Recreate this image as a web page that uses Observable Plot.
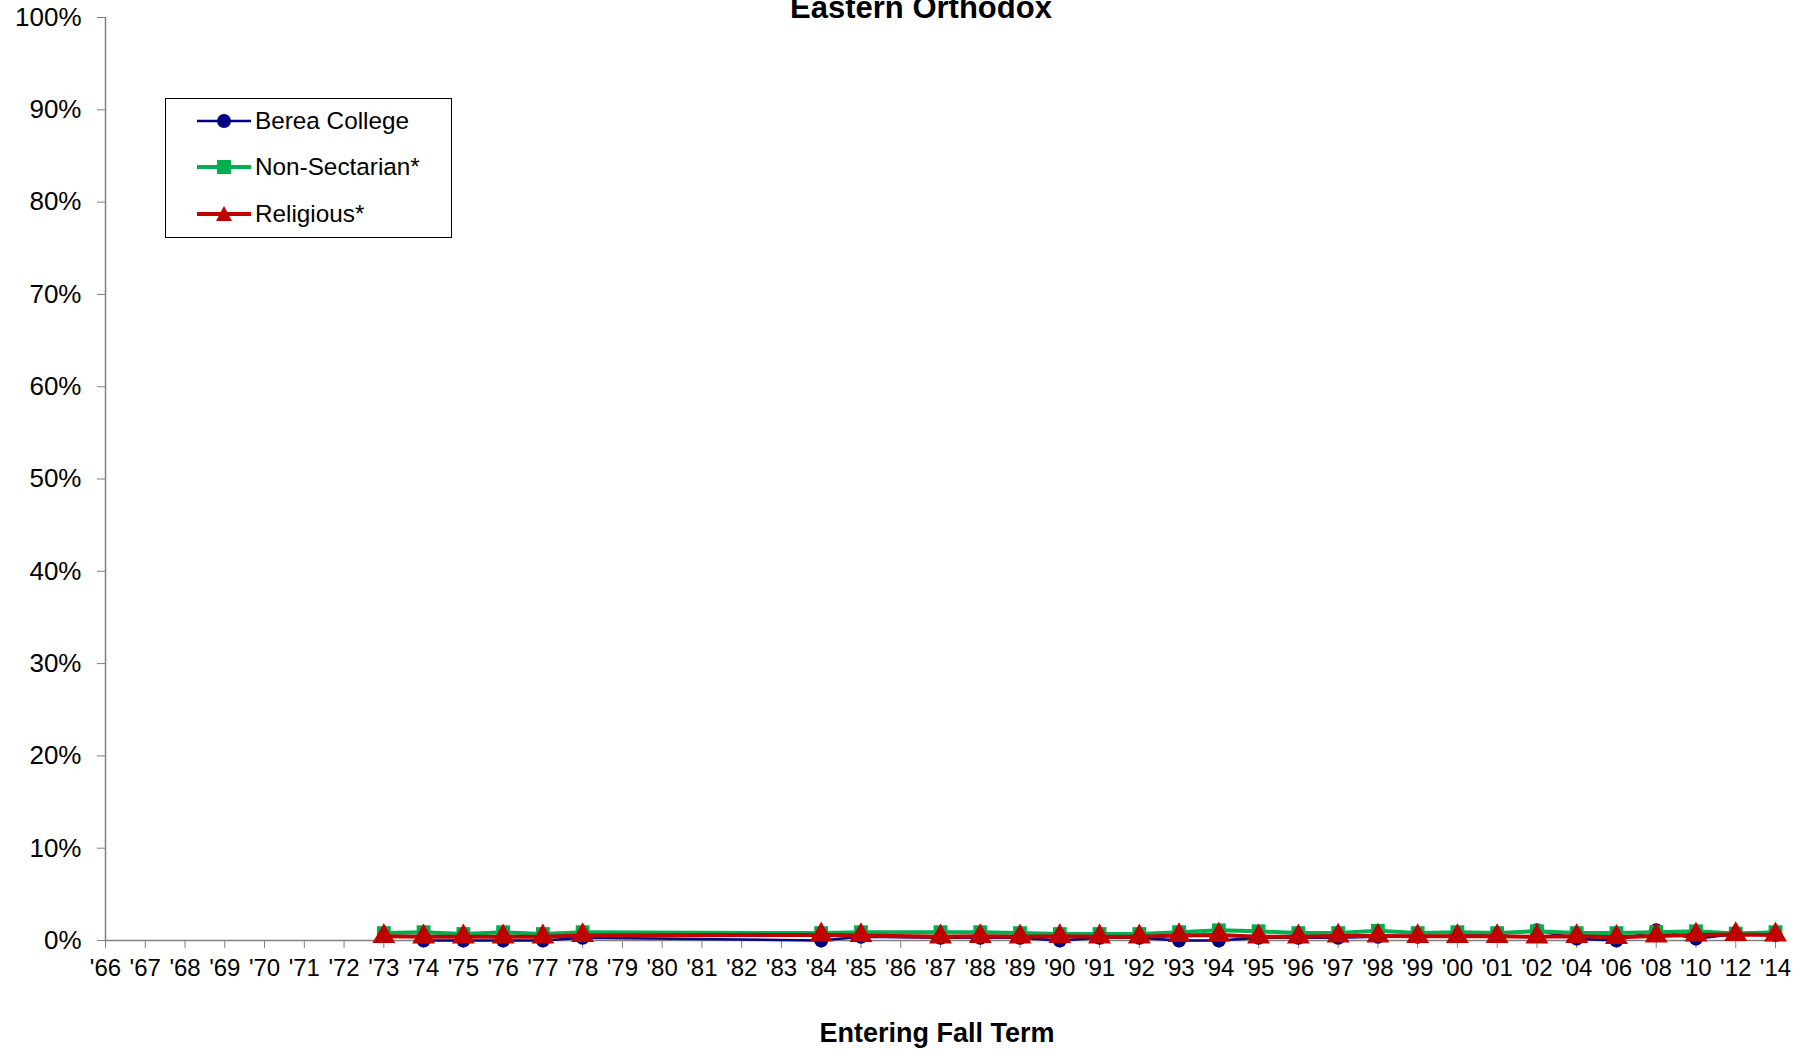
<!DOCTYPE html>
<html><head><meta charset="utf-8">
<script src="https://cdn.jsdelivr.net/npm/d3@7"></script>
<script src="https://cdn.jsdelivr.net/npm/@observablehq/plot@0.6"></script>
<style>
body{margin:0;background:#fff;font-family:"Liberation Sans",Arial,sans-serif;}
#wrap{position:relative;width:1812px;height:1050px;overflow:hidden;background:#fff;}
#chart{position:absolute;left:0;top:0;}
#title{position:absolute;left:0;width:1842px;text-align:center;top:-8px;font-size:31px;line-height:31px;font-weight:bold;color:#000;white-space:nowrap;}
#xlabel{position:absolute;left:0;width:1874px;text-align:center;top:1020px;font-size:27px;line-height:27px;font-weight:bold;color:#000;}
#legend{position:absolute;left:165px;top:98px;width:285px;height:138px;border:1px solid #000;background:#fff;}
.row{position:absolute;left:0;height:30px;width:285px;}
.row svg{position:absolute;left:28px;top:0;}
.row span{position:absolute;left:89px;top:2px;font-size:24.3px;line-height:26px;color:#000;white-space:nowrap;}
</style></head><body>
<div id="wrap">
  <div id="chart"></div>
  <div id="title">Eastern Orthodox</div>
  <div id="xlabel">Entering Fall Term</div>
  <div id="legend"></div>
</div>
<script>
const categories = ["'66","'67","'68","'69","'70","'71","'72","'73","'74","'75","'76","'77","'78","'79","'80","'81","'82","'83","'84","'85","'86","'87","'88","'89","'90","'91","'92","'93","'94","'95","'96","'97","'98","'99","'00","'01","'02","'04","'06","'08","'10","'12","'14"];
const n = null;
const berea = [n,n,n,n,n,n,n, n, 0,0,0,0,0.3, n,n,n,n,n, 0,0.4,n,0.3,0.3,0.3,0,0.3,0.3,0,0,0.3,0.3,0.3,0.4,0.4,0.5,0.7,1.1,0.2,0,1.1,0.2,0.7,0.6];
const nonSectarian = [n,n,n,n,n,n,n, 0.8, 0.9,0.7,0.9,0.7,0.9, n,n,n,n,n, 0.8,0.9,n,0.9,0.9,0.8,0.7,0.7,0.7,0.9,1.1,1.0,0.8,0.8,1.05,0.8,0.9,0.8,1.0,0.8,0.8,0.9,1.0,0.75,0.9];
const religious = [n,n,n,n,n,n,n, 0.45, 0.4,0.4,0.4,0.4,0.55, n,n,n,n,n, 0.6,0.55,n,0.4,0.45,0.4,0.45,0.4,0.4,0.55,0.6,0.4,0.4,0.5,0.5,0.45,0.45,0.45,0.4,0.45,0.35,0.5,0.6,0.65,0.6];
const yTicks = [0,10,20,30,40,50,60,70,80,90,100];

const series = [
  {name:"Berea College", values:berea, color:"#000080", width:2.5, symbol:"circle", r:7},
  {name:"Non-Sectarian*", values:nonSectarian, color:"#00B050", width:4, symbol:"square", r:7.8},
  {name:"Religious*", values:religious, color:"#C00000", width:4, symbol:"triangle", r:8.5}
];

function rows(vals){ return categories.map((c,i)=>({cat:c, v:vals[i]})).filter(d=>d.v!=null); }

const marks = [
  Plot.ruleY([0], {stroke:"#808080", strokeWidth:1.5}),
  Plot.ruleX([categories[0]], {stroke:"#808080", strokeWidth:1.5}),
  Plot.axisY({ticks:yTicks, tickFormat:d=>d+"%", tickSize:8, tickPadding:16, fontSize:26, stroke:"#808080", fill:"#000", label:null}),
  Plot.axisX({tickSize:8, tickPadding:10, fontSize:24, stroke:"#808080", fill:"#000", label:null})
];
for (const s of series) {
  const d = rows(s.values);
  marks.push(Plot.line(d, {x:"cat", y:"v", stroke:s.color, strokeWidth:s.width, curve:"linear"}));
  marks.push(Plot.dot(d, {x:"cat", y:"v", fill:s.color, stroke:"none", symbol:s.symbol, r:s.r}));
}

const chart = Plot.plot({
  width:1812, height:1050,
  marginLeft:105, marginRight:37, marginTop:17, marginBottom:110,
  style:{fontFamily:"'Liberation Sans', Arial, sans-serif", fontSize:"24px", color:"#000", background:"#fff"},
  x:{type:"point", domain:categories, padding:0},
  y:{domain:[0,100]},
  marks
});
document.getElementById("chart").appendChild(chart);

// legend
const legend = document.getElementById("legend");
const centers = [22, 68, 115];
series.forEach((s,i)=>{
  const row = document.createElement("div");
  row.className = "row";
  row.style.top = (centers[i]-15)+"px";
  let marker = "";
  if (s.symbol==="circle") marker = `<circle cx="30" cy="15" r="7" fill="${s.color}"/>`;
  else if (s.symbol==="square") marker = `<rect x="23" y="8" width="14" height="14" fill="${s.color}"/>`;
  else marker = `<path d="M30,7 L38,22 L22,22 Z" fill="${s.color}"/>`;
  row.innerHTML = `<svg width="60" height="30"><line x1="3" x2="57" y1="15" y2="15" stroke="${s.color}" stroke-width="${s.width}"/>${marker}</svg><span>${s.name}</span>`;
  legend.appendChild(row);
});
</script>
</body></html>
